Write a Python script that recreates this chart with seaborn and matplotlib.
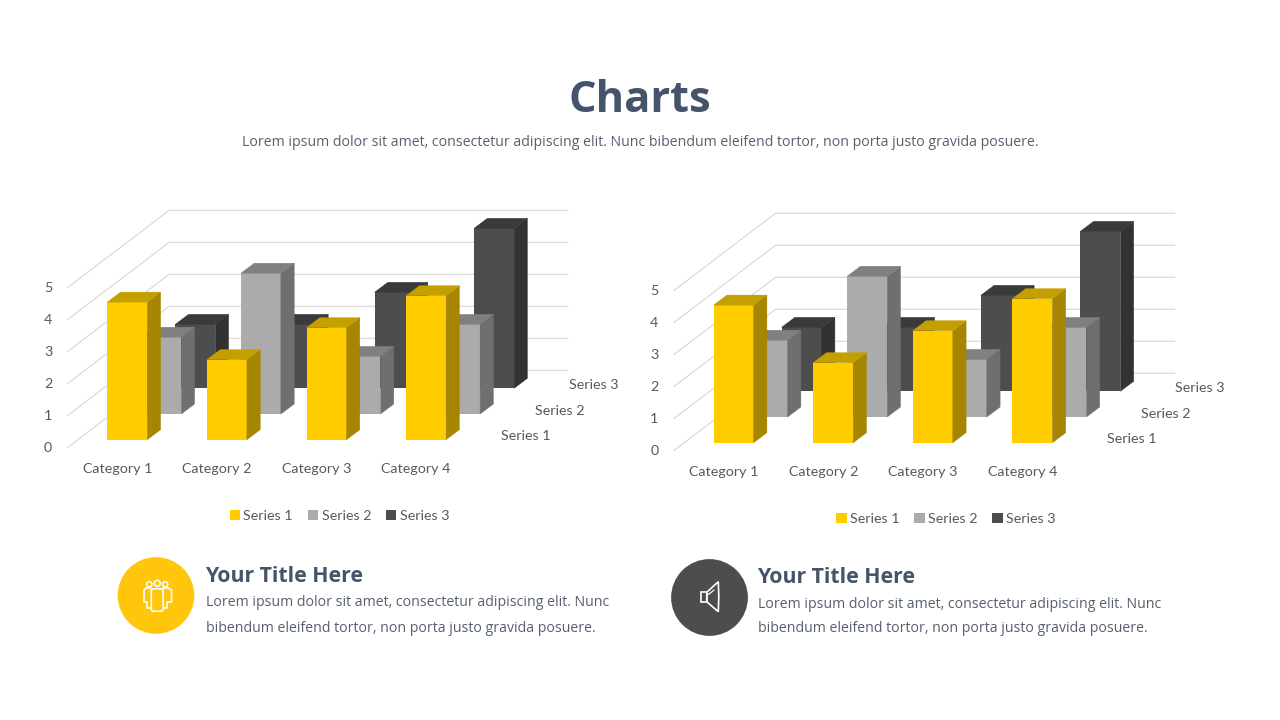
import matplotlib
matplotlib.use("Agg")
import matplotlib.pyplot as plt
from matplotlib.patches import Polygon, Circle, Patch, FancyBboxPatch
import numpy as np
import seaborn as sns

categories = ["Category 1", "Category 2", "Category 3", "Category 4"]
series_names = ["Series 1", "Series 2", "Series 3"]
series_1 = [4.3, 2.5, 3.5, 4.5]
series_2 = [2.4, 4.4, 1.8, 2.8]
series_3 = [2.0, 2.0, 3.0, 5.0]
value_ticks = [0, 1, 2, 3, 4, 5]

TITLE = "Charts"
SUBTITLE = "Lorem ipsum dolor sit amet, consectetur adipiscing elit. Nunc bibendum eleifend tortor, non porta justo gravida posuere."
CARD_TITLE = "Your Title Here"
CARD_L1 = "Lorem ipsum dolor sit amet, consectetur adipiscing elit. Nunc"
CARD_L2 = "bibendum eleifend tortor, non porta justo gravida posuere."

sns.set_theme(style="white")
W, H = 1280, 720
NAVY = "#44546A"
BODY = "#56606F"
LABEL = "#595959"
GRID = "#D9D9D9"
front = sns.color_palette(["#FFCC00", "#ABABAB", "#4D4D4D"])
side = ["#A68500", "#6F6F6F", "#323232"]
top = ["#C49F00", "#808080", "#3A3A3A"]

fig = plt.figure(figsize=(W / 100, H / 100), dpi=100, facecolor="white")

# one unit of category = 99.6 px, one unit of value = 32 px
PX_X, PX_Y = 99.6, 32.0
STEP_X, STEP_Y = 34.0 / PX_X, 25.7 / PX_Y      # shift from one series to the next
DEPTH_X, DEPTH_Y = 13.3 / PX_X, 10.0 / PX_Y    # depth of a bar
WALL_X, WALL_Y = 102.0 / PX_X, 77.4 / PX_Y     # depth of the left wall
WALL_X0, WALL_V0 = -60.0 / PX_X, -8.0 / PX_Y   # front foot of the wall
BACK_END = 441.0 / PX_X


def chart(ox, oy):
    """ox, oy: pixel position of category 0, value 0 of the front series"""
    left, right, upper, lower = 55, 630, 200, 462
    ax = fig.add_axes([(ox - 127.3 + left) / W, 1 - (oy - 439.7 + lower) / H,
                       (right - left) / W, (lower - upper) / H])
    ax.set_facecolor("none")
    pos = np.arange(len(categories), dtype=float)
    data = [series_1, series_2, series_3]

    for v in value_ticks:
        y0 = WALL_V0 + v
        ax.plot([WALL_X0, WALL_X0 + WALL_X, BACK_END],
                [y0, y0 + WALL_Y, y0 + WALL_Y], color=GRID, lw=0.85, zorder=0,
                solid_joinstyle="miter")

    for s in [2, 1, 0]:
        n_before = len(ax.patches)
        sns.barplot(x=pos + s * STEP_X, y=data[s], native_scale=True, orient="x",
                    width=40 / PX_X, color=front[s], saturation=1, errorbar=None,
                    bottom=s * STEP_Y, linewidth=0, ax=ax, legend=False)
        for bar in list(ax.patches[n_before:]):
            x0, x1 = bar.get_x(), bar.get_x() + bar.get_width()
            y0, y1 = bar.get_y(), bar.get_y() + bar.get_height()
            ax.add_patch(Polygon([(x1, y0), (x1 + DEPTH_X, y0 + DEPTH_Y),
                                  (x1 + DEPTH_X, y1 + DEPTH_Y), (x1, y1)],
                                 closed=True, fc=side[s], ec=side[s], lw=0.3))
            ax.add_patch(Polygon([(x0, y1), (x1, y1), (x1 + DEPTH_X, y1 + DEPTH_Y),
                                  (x0 + DEPTH_X, y1 + DEPTH_Y)],
                                 closed=True, fc=top[s], ec=top[s], lw=0.3))

    ax.set_xlim((left - 127.3) / PX_X, (right - 127.3) / PX_X)
    ax.set_ylim((439.7 - lower) / PX_Y, (439.7 - upper) / PX_Y)
    ax.set_xlabel("")
    ax.set_ylabel("")
    ax.set_xticks(pos - 0.1, categories, fontsize=10.3, color=LABEL, family="Lato")
    ax.set_yticks([WALL_V0 + v + 1 / PX_Y for v in value_ticks],
                  [str(v) for v in value_ticks], fontsize=10.3, color=LABEL, family="Lato")
    ax.tick_params(axis="x", length=0, pad=1.0)
    ax.tick_params(axis="y", length=0, pad=2)
    sns.despine(ax=ax, left=True, bottom=True)

    last = pos[-1]
    for s, name in enumerate(series_names):
        ax.text(last + s * STEP_X + 74.5 / PX_X, s * STEP_Y + 3.5 / PX_Y, name,
                fontsize=10.3, color=LABEL, family="Lato", va="center", ha="left",
                clip_on=False)

    handles = [Patch(fc=front[i], lw=0, label=series_names[i]) for i in range(3)]
    ax.legend(handles=handles, loc="center", ncol=3, frameon=False, prop={"family": "Lato", "size": 10.3},
              labelcolor=LABEL, handlelength=0.72, handleheight=0.72, handletextpad=0.22,
              columnspacing=1.05, borderpad=0,
              bbox_to_anchor=((339.5 - left) / (right - left), 1 - (516 - upper) / (lower - upper)))
    return ax


chart(127.3, 439.7)
chart(733.6, 442.7)


def pt(x, y):
    return x / W, 1 - y / H


fig.text(*pt(640, 100), TITLE, family="Open Sans", weight="bold", fontsize=31.2, color=NAVY, ha="center", va="center")
fig.text(*pt(640, 143), SUBTITLE, family="Open Sans", fontsize=10.17, color=BODY, ha="center", va="center")

# overlay in pixel coordinates for the two text cards and icons
ov = fig.add_axes([0, 0, 1, 1])
ov.set_xlim(0, W)
ov.set_ylim(H, 0)
ov.axis("off")
ov.patch.set_alpha(0)

ov.add_patch(Circle((156, 595.5), 38.3, fc="#FFC60B", lw=0))
ov.add_patch(Circle((709.5, 597.5), 38.4, fc="#4D4D4D", lw=0))

# people icon
for cx, cy, r in [(149.3, 584.3, 2.6), (157.3, 583.3, 3.0), (165.2, 584.3, 2.6)]:
    ov.add_patch(Circle((cx, cy), r, fc="none", ec="white", lw=1.1))
ov.plot([151, 146, 144, 144, 147, 147, 151], [588, 588, 590, 602, 602, 608, 608], color="white", lw=1.2)
ov.plot([163, 168, 171.5, 171.5, 167, 167, 163], [588, 588, 590, 602, 602, 608, 608], color="white", lw=1.2)
ov.add_patch(FancyBboxPatch((151.5, 589), 11.4, 22, boxstyle="round,pad=0.2,rounding_size=2.2", fc="#FFC60B", ec="white", lw=1.2, zorder=3))

# speaker icon
ov.add_patch(Polygon([(700.7, 592.3), (706.7, 592.3), (706.7, 601.7), (700.7, 601.7)], closed=True, fc="none", ec="white", lw=1.2))
ov.add_patch(Polygon([(706.7, 592.3), (718.3, 581.7), (718.8, 596.5), (718.3, 611.7), (706.7, 601.7)], closed=True, fc="none", ec="white", lw=1.2))
ov.plot([708.5, 714], [594.5, 590], color="white", lw=0.9)

for x, y0, y1, y2 in [(205.5, 576, 603, 628), (757.5, 577.5, 604, 629)]:
    ov.text(x, y0, CARD_TITLE, family="Open Sans", weight="bold", fontsize=15.3, color=NAVY, va="center")
    ov.text(x + 0.5, y1, CARD_L1, family="Open Sans", fontsize=10.2, color=BODY, va="center")
    ov.text(x + 0.5, y2, CARD_L2, family="Open Sans", fontsize=10.2, color=BODY, va="center")

fig.savefig("out.png", dpi=100, facecolor="white")
